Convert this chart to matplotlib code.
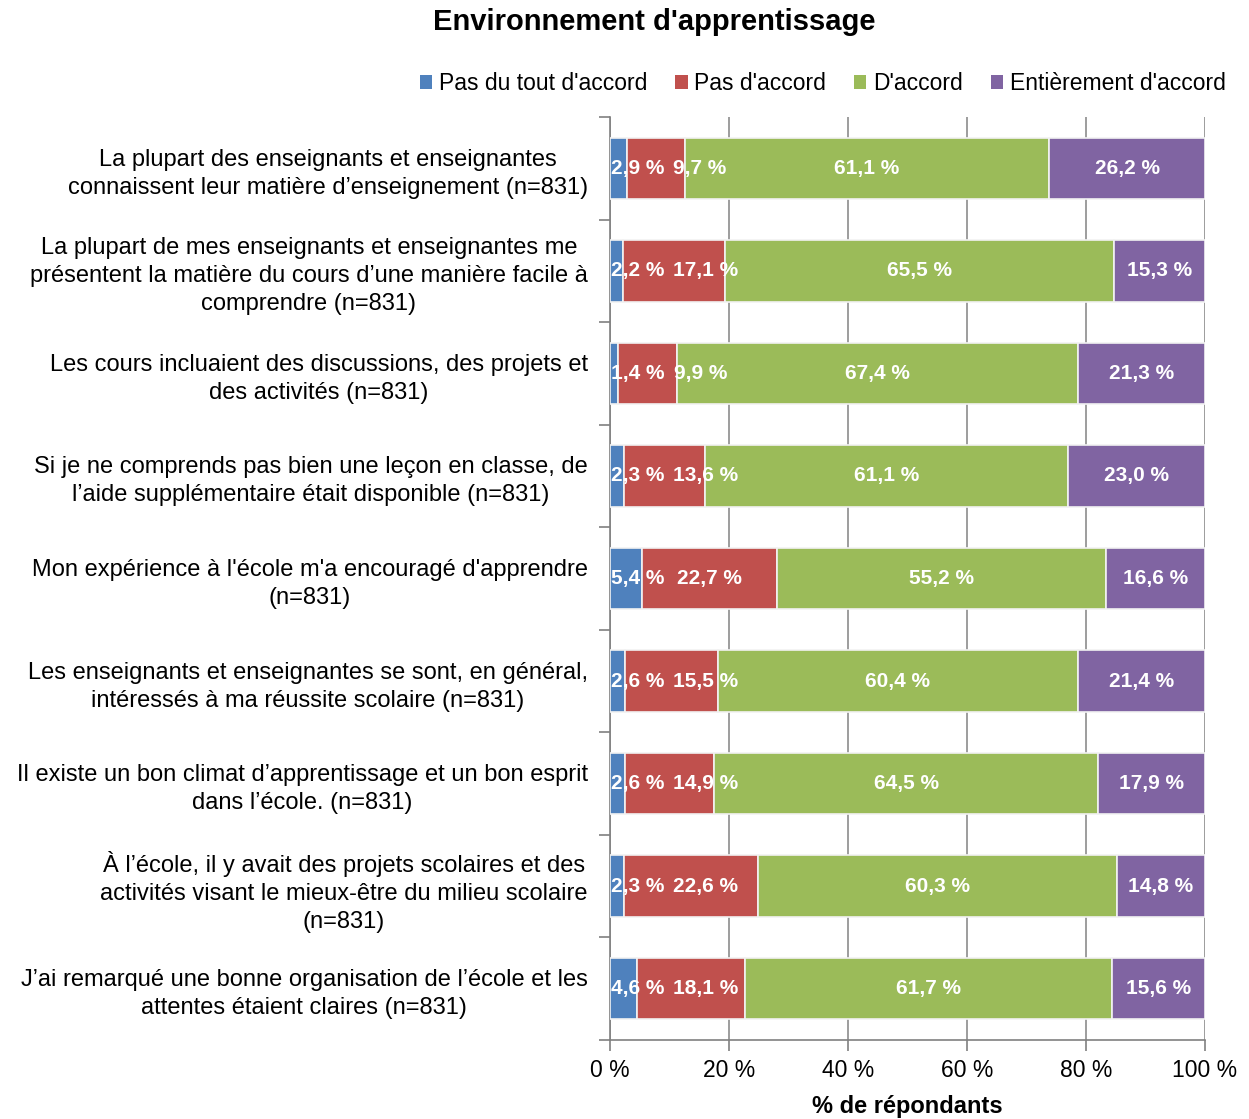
import numpy as np
import matplotlib.pyplot as plt
from matplotlib.patches import Patch

plt.rcParams['font.family'] = ['Liberation Sans', 'DejaVu Sans']

# Data
questions = [
    "La plupart des enseignants et enseignantes\nconnaissent leur matière d’enseignement (n=831)",
    "La plupart de mes enseignants et enseignantes me\nprésentent la matière du cours d’une manière facile à\ncomprendre (n=831)",
    "Les cours incluaient des discussions, des projets et\ndes activités (n=831)",
    "Si je ne comprends pas bien une leçon en classe, de\nl’aide supplémentaire était disponible (n=831)",
    "Mon expérience à l'école m'a encouragé d'apprendre\n(n=831)",
    "Les enseignants et enseignantes se sont, en général,\nintéressés à ma réussite scolaire (n=831)",
    "Il existe un bon climat d’apprentissage et un bon esprit\ndans l’école. (n=831)",
    "À l’école, il y avait des projets scolaires et des\nactivités visant le mieux-être du milieu scolaire\n(n=831)",
    "J’ai remarqué une bonne organisation de l’école et les\nattentes étaient claires (n=831)",
]
series_names = ["Pas du tout d'accord", "Pas d'accord", "D'accord", "Entièrement d'accord"]
pas_du_tout = [2.9, 2.2, 1.4, 2.3, 5.4, 2.6, 2.6, 2.3, 4.6]
pas_accord = [9.7, 17.1, 9.9, 13.6, 22.7, 15.5, 14.9, 22.6, 18.1]
accord = [61.1, 65.5, 67.4, 61.1, 55.2, 60.4, 64.5, 60.3, 61.7]
entierement = [26.2, 15.3, 21.3, 23.0, 16.6, 21.4, 17.9, 14.8, 15.6]
colors = ['#4F81BD', '#C0504D', '#9BBB59', '#8064A2']

raw = np.array([pas_du_tout, pas_accord, accord, entierement])
shares = raw / raw.sum(axis=0) * 100  # 100 % stacked

fig = plt.figure(figsize=(12.49, 11.19), dpi=100)
ax = fig.add_axes([0.4884, 0.0706, 0.4764, 0.8248])

y = np.arange(len(questions))
left = np.zeros(len(questions))
for k in range(4):
    ax.barh(y, shares[k], left=left, height=0.6, color=colors[k],
            edgecolor='#f2f2f2', linewidth=1.2, zorder=3)
    left += shares[k]

ax.set_xlim(0, 100)
ax.set_ylim(len(questions) - 0.5, -0.5)
ax.set_xticks(np.arange(0, 101, 20))
ax.set_xticklabels([f"{v} %" for v in range(0, 101, 20)], fontsize=16.5)
ax.set_yticks(y)
ax.set_yticklabels(questions, fontsize=17)
for t in ax.get_yticklabels():
    t.set_multialignment('center')
    t.set_linespacing(1.35)
ax.set_yticks(np.arange(-0.5, len(questions)), minor=True)
ax.tick_params(axis='y', which='major', length=0, pad=16)
ax.tick_params(axis='y', which='minor', length=8, color='#808080', width=1.2)
ax.tick_params(axis='x', length=8, color='#808080', width=1.2, pad=6)
ax.grid(axis='x', color='#8c8c8c', linewidth=1.2, zorder=0)
ax.set_axisbelow(True)
for s in ['top', 'right']:
    ax.spines[s].set_visible(False)
for s in ['left', 'bottom']:
    ax.spines[s].set_color('#808080')
    ax.spines[s].set_linewidth(1.2)
ax.set_xlabel("% de répondants", fontsize=17, fontweight='bold', labelpad=9)

# data labels, centred, pushed apart when they would overlap
fig.canvas.draw()
renderer = fig.canvas.get_renderer()
to_data = ax.transData.inverted()
ax_left_px = ax.transData.transform((0, 0))[0]
for i in range(len(questions)):
    starts = np.concatenate([[0], np.cumsum(shares[:, i])[:-1]])
    prev_right = ax_left_px
    for k in range(4):
        cx = starts[k] + shares[k, i] / 2
        txt = ax.text(cx, y[i], f"{raw[k, i]:.1f} %".replace('.', ','),
                      ha='center', va='center', color='white',
                      fontsize=15, fontweight='bold', zorder=5)
        bb = txt.get_window_extent(renderer)
        gap = 1 if k == 0 else 9
        if bb.x0 < prev_right + gap:
            shift = prev_right + gap - bb.x0
            cx_px = ax.transData.transform((cx, y[i]))[0] + shift
            txt.set_x(to_data.transform((cx_px, 0))[0])
            bb = txt.get_window_extent(renderer)
        prev_right = bb.x1

handles = [Patch(facecolor=c) for c in colors]
fig.legend(handles, series_names, loc='center right',
           bbox_to_anchor=(0.998, 0.925), ncol=4, frameon=False, fontsize=16.5,
           handlelength=0.55, handleheight=0.55, handletextpad=0.3,
           columnspacing=1.2)

fig.text(0.524, 0.98, "Environnement d'apprentissage", ha='center', va='center',
         fontsize=21, fontweight='bold')

fig.savefig('out.png', dpi=100)
